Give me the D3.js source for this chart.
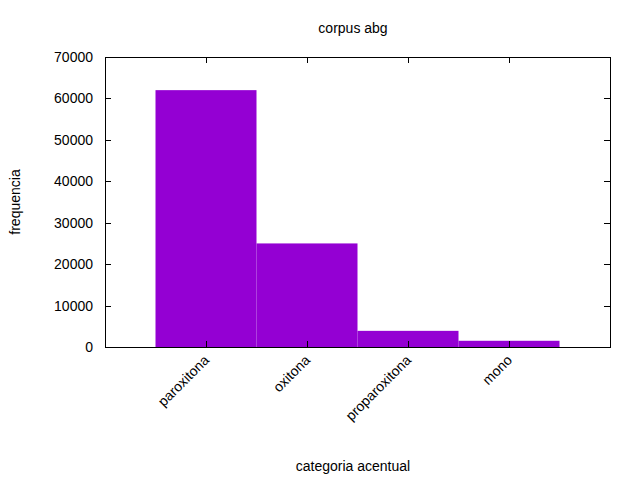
<!DOCTYPE html>
<html>
<head>
<meta charset="utf-8">
<script src="https://cdn.jsdelivr.net/npm/d3@7"></script>
<style>
  body { margin: 0; background: #fff; }
  text { font-family: "Liberation Sans", Arial, sans-serif; font-size: 14px; fill: #000; }
</style>
</head>
<body>
<div id="chart"></div>
<script>
  const categories = ["paroxitona", "oxitona", "proparoxitona", "mono"];
  const frequencies = [62000, 25000, 3900, 1500];
  const yTicks = [0, 10000, 20000, 30000, 40000, 50000, 60000, 70000];

  const W = 640, H = 480;
  const plotLeft = 105, plotRight = 610, plotTop = 57, plotBottom = 347;

  const svg = d3.select("#chart").append("svg")
    .attr("width", W).attr("height", H);

  const x = d3.scaleLinear().domain([-1, 4]).range([plotLeft, plotRight]);
  const y = d3.scaleLinear().domain([0, 70000]).range([plotBottom, plotTop]);

  // bars
  svg.selectAll(".bar")
    .data(frequencies)
    .join("rect")
    .attr("class", "bar")
    .attr("x", (d, i) => x(i - 0.5))
    .attr("width", (d, i) => x(i + 0.5) - x(i - 0.5))
    .attr("y", (d) => y(d))
    .attr("height", (d) => y(0) - y(d))
    .attr("fill", "#9400d3");

  // ticks (inward, mirrored like gnuplot)
  const tickLen = 6;
  const g = svg.append("g").attr("stroke", "#000").attr("stroke-width", 1);
  yTicks.forEach((t) => {
    const yy = Math.round(y(t)) + 0.5;
    g.append("line").attr("x1", plotLeft).attr("x2", plotLeft + tickLen).attr("y1", yy).attr("y2", yy);
    g.append("line").attr("x1", plotRight - tickLen).attr("x2", plotRight).attr("y1", yy).attr("y2", yy);
  });
  categories.forEach((c, i) => {
    const xx = Math.round(x(i)) + 0.5;
    g.append("line").attr("x1", xx).attr("x2", xx).attr("y1", plotBottom).attr("y2", plotBottom - tickLen);
    g.append("line").attr("x1", xx).attr("x2", xx).attr("y1", plotTop).attr("y2", plotTop + tickLen);
  });

  // frame
  svg.append("rect")
    .attr("x", plotLeft + 0.5).attr("y", plotTop + 0.5)
    .attr("width", plotRight - plotLeft).attr("height", plotBottom - plotTop)
    .attr("fill", "none").attr("stroke", "#000");

  // y labels
  svg.selectAll(".ylab")
    .data(yTicks)
    .join("text")
    .attr("x", plotLeft - 12)
    .attr("y", (d) => y(d) + 5)
    .attr("text-anchor", "end")
    .text((d) => d);

  // x labels rotated
  svg.selectAll(".xlab")
    .data(categories)
    .join("text")
    .attr("text-anchor", "end")
    .attr("transform", (d, i) => `translate(${x(i) + 4},${plotBottom + 14}) rotate(-45)`)
    .text((d) => d);

  svg.append("text").attr("x", 353).attr("y", 33).attr("text-anchor", "middle").text("corpus abg");
  svg.append("text").attr("x", 353).attr("y", 471).attr("text-anchor", "middle").text("categoria acentual");
  svg.append("text").attr("text-anchor", "middle")
    .attr("transform", `translate(20,202) rotate(-90)`).text("frequencia");
</script>
</body>
</html>
